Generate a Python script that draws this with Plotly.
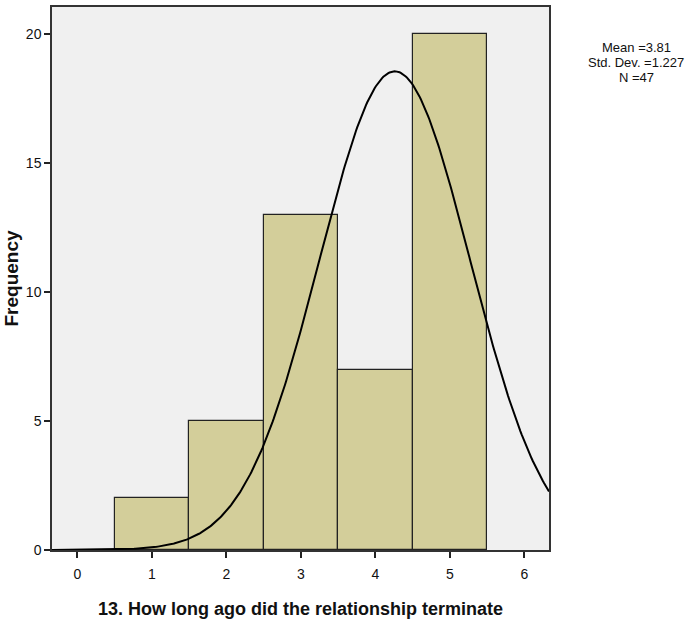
import numpy as np
import plotly.graph_objects as go

# Data
categories = [1, 2, 3, 4, 5]
frequencies = [2, 5, 13, 7, 20]
x_ticks = [0, 1, 2, 3, 4, 5, 6]
y_ticks = [0, 5, 10, 15, 20]
stats_lines = ["Mean =3.81", "Std. Dev. =1.227", "N =47"]

# Normal curve as drawn in the reference (fitted curve parameters)
curve_mean = 4.26
curve_sd = 1.01
curve_n = 47
bin_width = 1

xs = np.linspace(-0.34, 6.33, 400)
ys = curve_n * bin_width / (curve_sd * np.sqrt(2 * np.pi)) * np.exp(-0.5 * ((xs - curve_mean) / curve_sd) ** 2)

fig = go.Figure()
fig.add_trace(go.Bar(
    x=categories, y=frequencies, width=1,
    marker=dict(color="#D3CE9A", line=dict(color="#222222", width=1.2)),
    hoverinfo="x+y", showlegend=False,
))
fig.add_trace(go.Scatter(
    x=xs, y=ys, mode="lines",
    line=dict(color="black", width=2), showlegend=False, hoverinfo="skip",
))

base_font = "Liberation Sans, Arial, sans-serif"
axis_font = dict(family=base_font, size=14, color="#111")
fig.update_layout(
    width=689, height=628,
    margin=dict(l=52, r=140, t=5, b=78),
    paper_bgcolor="white", plot_bgcolor="#F0F0F0",
    bargap=0,
    xaxis=dict(
        range=[-0.34, 6.33], tickvals=x_ticks, ticktext=[str(v) for v in x_ticks],
        ticks="outside", ticklen=6, tickwidth=1.5, tickcolor="#222",
        ticklabelstandoff=4,
        showgrid=False, zeroline=False, showline=True, mirror=True,
        linecolor="#333", linewidth=1.5, tickfont=axis_font,
        title=dict(text="<b>13. How long ago did the relationship terminate</b>",
                   font=dict(family=base_font, size=18, color="#111"),
                   standoff=22),
    ),
    yaxis=dict(
        range=[0, 21.06], tickvals=y_ticks,
        ticks="outside", ticklen=6, tickwidth=1.5, tickcolor="#222",
        showgrid=False, zeroline=False, showline=True, mirror=True,
        linecolor="#333", linewidth=1.5, tickfont=axis_font,
        title=dict(text="<b>Frequency</b>",
                   font=dict(family=base_font, size=19, color="#111"),
                   standoff=2),
    ),
)

for i, line in enumerate(stats_lines):
    fig.add_annotation(
        xref="paper", yref="paper", x=1.0, y=1.0,
        xshift=87, yshift=-(45 - 5) - 15 * i, xanchor="center", yanchor="middle",
        text=line, showarrow=False, align="center",
        font=dict(family=base_font, size=13, color="#111"),
    )

fig.write_html("out.html")
